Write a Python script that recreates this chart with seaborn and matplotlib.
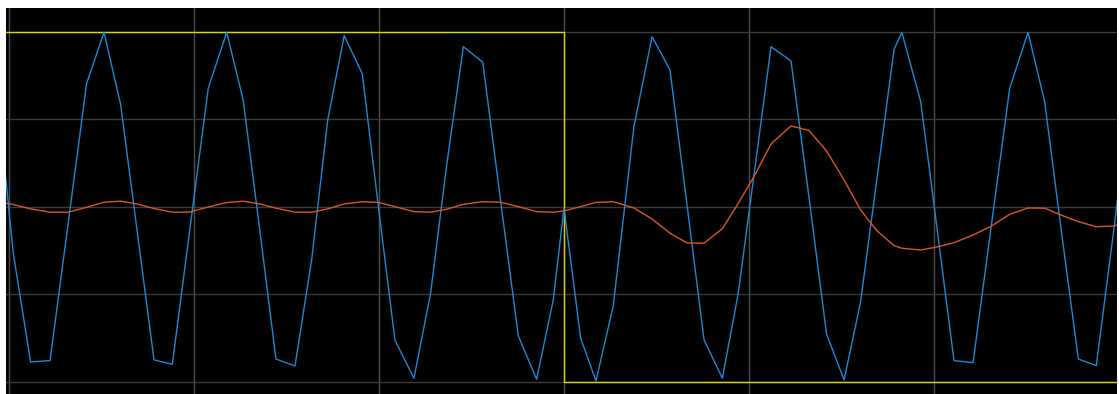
import matplotlib
matplotlib.use("Agg")
import matplotlib.pyplot as plt
import seaborn as sns

# sample times (grid every 1.0) and signal values
t = [-0.070, 0.023, 0.117, 0.222, 0.319, 0.420, 0.514, 0.604, 0.692, 0.784,
     0.883, 0.978, 1.077, 1.177, 1.266, 1.357, 1.443, 1.546, 1.636, 1.723,
     1.812, 1.910, 1.997, 2.086, 2.189, 2.279, 2.366, 2.456, 2.561, 2.654,
     2.753, 2.852, 2.942, 3.000, 3.090, 3.173, 3.266, 3.378, 3.476, 3.573,
     3.665, 3.757, 3.856, 3.942, 4.032, 4.119, 4.227, 4.324, 4.419, 4.514,
     4.603, 4.692, 4.784, 4.826, 4.928, 5.016, 5.108, 5.211, 5.308, 5.409,
     5.508, 5.598, 5.686, 5.780, 5.877, 5.973, 6.065]

signal_in = [0.726, -0.263, -0.886, -0.878, -0.102, 0.707, 0.998, 0.583, -0.131, -0.874,
             -0.899, -0.126, 0.678, 0.998, 0.611, -0.143, -0.869, -0.909, -0.303, 0.497,
             0.979, 0.760, 0.000, -0.760, -0.979, -0.493, 0.240, 0.916, 0.827, 0.063,
             -0.737, -0.985, -0.531, -0.007, -0.750, -0.994, -0.567, 0.459, 0.973, 0.783,
             0.011, -0.760, -0.979, -0.493, 0.223, 0.916, 0.834, 0.057, -0.726, -0.989,
             -0.543, 0.166, 0.901, 0.998, 0.602, -0.120, -0.878, -0.890, -0.120, 0.678,
             0.998, 0.602, -0.120, -0.869, -0.907, -0.120, 0.680]

filtered = [0.031, 0.014, -0.011, -0.030, -0.030, -0.002, 0.027, 0.033, 0.017, -0.009,
            -0.030, -0.029, 0.000, 0.025, 0.033, 0.017, -0.007, -0.030, -0.030, -0.011,
            0.017, 0.030, 0.026, 0.002, -0.027, -0.030, -0.013, 0.015, 0.030, 0.027,
            0.002, -0.027, -0.030, -0.023, 0.002, 0.026, 0.030, -0.006, -0.069, -0.150,
            -0.206, -0.207, -0.124, 0.021, 0.183, 0.360, 0.463, 0.437, 0.320, 0.154,
            -0.017, -0.137, -0.221, -0.236, -0.246, -0.229, -0.204, -0.160, -0.111, -0.042,
            -0.006, -0.007, -0.046, -0.084, -0.113, -0.109, -0.069]

# square wave: high until t=3, then low
sq_t = [-0.1, 3.0, 3.0, 6.1]
sq_v = [1.0, 1.0, -1.0, -1.0]

sns.set_style("dark", {"axes.facecolor": "black", "figure.facecolor": "white"})

fig = plt.figure(figsize=(11.19, 3.94), dpi=100)
ax = fig.add_axes([6 / 1119, 0, 1111 / 1119, 386 / 394])
ax.set_facecolor("black")

sns.lineplot(x=sq_t, y=sq_v, ax=ax, color="#d8d800", lw=1.0,
             estimator=None, sort=False)
sns.lineplot(x=t, y=signal_in, ax=ax, color="#1a8ad8", lw=1.0,
             estimator=None, sort=False)
sns.lineplot(x=t, y=filtered, ax=ax, color="#d9571e", lw=1.0,
             estimator=None, sort=False)

ax.set_xlim(-0.016, 5.989)
ax.set_ylim(-1.069, 1.137)
ax.set_xticks([0, 1, 2, 3, 4, 5])
ax.set_yticks([-1, -0.5, 0, 0.5, 1])
ax.xaxis.grid(True, color="#4d4d4d", lw=1.0)
ax.yaxis.grid(True, color="#3a3a3a", lw=1.0)
ax.set_axisbelow(True)
ax.tick_params(axis="y", direction="in", length=3, color="#777777", labelleft=False)
ax.tick_params(axis="x", length=0, labelbottom=False)
ax.set_xlabel("")
ax.set_ylabel("")
for s in ax.spines.values():
    s.set_visible(False)

fig.savefig("out.png", dpi=100, facecolor="white")
